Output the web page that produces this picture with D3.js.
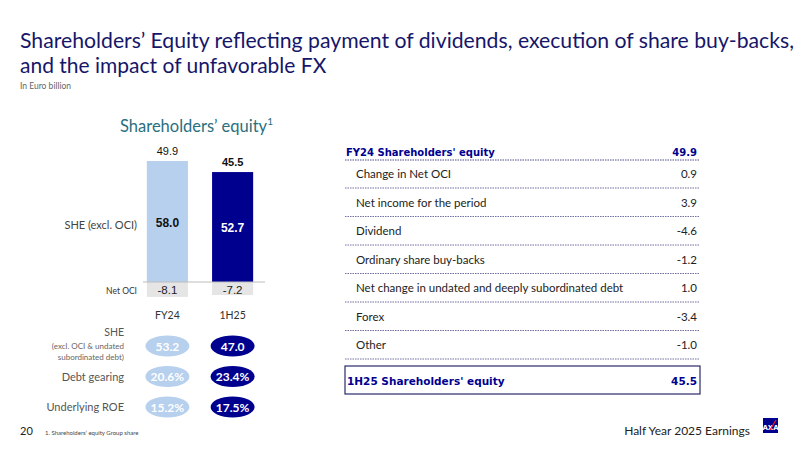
<!DOCTYPE html>
<html>
<head>
<meta charset="utf-8">
<script src="https://cdn.jsdelivr.net/npm/d3@7"></script>
<style>
  body { margin: 0; background: #fff; }
  svg { display: block; font-family: Lato, "Open Sans", sans-serif; }
</style>
</head>
<body>
<div id="chart"></div>
<script>
// Data
const categories = ["FY24", "1H25"];
const sheExclOci = [58.0, 52.7];
const netOci = [-8.1, -7.2];
const totals = [49.9, 45.5];

const kpiLabels = ["SHE", "Debt gearing", "Underlying ROE"];
const kpiFY24 = ["53.2", "20.6%", "15.2%"];
const kpi1H25 = ["47.0", "23.4%", "17.5%"];

const bridgeItems = ["Change in Net OCI", "Net income for the period", "Dividend",
  "Ordinary share buy-backs", "Net change in undated and deeply subordinated debt",
  "Forex", "Other"];
const bridgeValues = [0.9, 3.9, -4.6, -1.2, 1.0, -3.4, -1.0];
const startLabel = "FY24 Shareholders' equity";
const endLabel = "1H25 Shareholders' equity";

const navy = "#00008f";
const titleNavy = "#16166a";
const light = "#b6d0ee";
const grey = "#e5e5e5";
const fmt = d3.formatLocale({ decimal: ".", thousands: ",", grouping: [3], currency: ["", ""], minus: "-" }).format(".1f");

const W = 800, H = 450;
const svg = d3.select("#chart").append("svg")
    .attr("width", W).attr("height", H);

// Title
const title = svg.append("text")
    .attr("x", 20).attr("fill", titleNavy)
    .attr("font-size", 21);
title.append("tspan").attr("x", 20).attr("y", 48)
    .attr("textLength", 774).attr("lengthAdjust", "spacingAndGlyphs")
    .text("Shareholders\u2019 Equity reflecting payment of dividends, execution of share buy-backs,");
title.append("tspan").attr("x", 20).attr("y", 73)
    .text("and the impact of unfavorable FX");
svg.append("text").attr("x", 20).attr("y", 89)
    .attr("font-size", 8.5).attr("fill", "#666")
    .text("In Euro billion");

// Subtitle
const sub = svg.append("text").attr("x", 120).attr("y", 132)
    .attr("font-size", 16.5).attr("fill", "#2a6f80")
    .text("Shareholders\u2019 equity");
sub.append("tspan").attr("font-size", 10).attr("dy", -7).text("1");

// Bar chart scales
const x = d3.scaleBand().domain(categories)
    .range([102.5, 297.5]).paddingInner(0.37).paddingOuter(0.68);
const y = d3.scaleLinear().domain([0, 58]).range([282, 161]);

const bars = svg.append("g");
bars.selectAll("rect.she").data(categories).join("rect")
    .attr("x", d => x(d)).attr("width", x.bandwidth())
    .attr("y", (d, i) => y(sheExclOci[i]))
    .attr("height", (d, i) => y(0) - y(sheExclOci[i]))
    .attr("fill", (d, i) => i === 0 ? light : navy);

bars.selectAll("rect.oci").data(categories).join("rect")
    .attr("x", d => x(d)).attr("width", x.bandwidth())
    .attr("y", y(0))
    .attr("height", (d, i) => y(netOci[i]) - y(0) - 2)
    .attr("fill", grey);

// baseline
svg.append("line")
    .attr("x1", 143).attr("x2", 265)
    .attr("y1", y(0)).attr("y2", y(0))
    .attr("stroke", "#bdbdbd").attr("stroke-width", 1);

// value labels inside bars
bars.selectAll("text.in").data(categories).join("text")
    .attr("x", d => x(d) + x.bandwidth() / 2)
    .attr("y", (d, i) => (y(sheExclOci[i]) + y(0)) / 2 + 5)
    .attr("text-anchor", "middle").attr("font-size", 12).attr("font-weight", "bold")
    .attr("font-family", "Liberation Sans, Arial, sans-serif")
    .attr("fill", (d, i) => i === 0 ? "#111" : "#fff")
    .text((d, i) => fmt(sheExclOci[i]));

// totals above bars
bars.selectAll("text.tot").data(categories).join("text")
    .attr("x", d => x(d) + x.bandwidth() / 2)
    .attr("y", (d, i) => y(sheExclOci[i]) - 6)
    .attr("text-anchor", "middle").attr("font-size", 11)
    .attr("font-family", "Liberation Sans, Arial, sans-serif")
    .attr("font-weight", (d, i) => i === 0 ? "normal" : "bold")
    .attr("fill", "#111")
    .text((d, i) => fmt(totals[i]));

// net OCI labels
bars.selectAll("text.oci").data(categories).join("text")
    .attr("x", d => x(d) + x.bandwidth() / 2)
    .attr("y", (d, i) => (y(0) + y(netOci[i])) / 2 + 4)
    .attr("text-anchor", "middle").attr("font-size", 11.5)
    .attr("font-family", "Liberation Sans, Arial, sans-serif")
    .attr("fill", "#222")
    .text((d, i) => fmt(netOci[i]));

// category axis
svg.append("g")
    .attr("transform", "translate(0,309)")
    .call(d3.axisBottom(x).tickSize(0))
    .call(g => g.select(".domain").remove())
    .call(g => g.selectAll("text").attr("font-size", 10.5).attr("fill", "#333")
        .attr("font-family", "Lato, sans-serif"));

// row labels
svg.append("text").attr("x", 137).attr("y", 229).attr("text-anchor", "end")
    .attr("font-size", 11).attr("fill", "#444").text("SHE (excl. OCI)");
svg.append("text").attr("x", 137).attr("y", 294).attr("text-anchor", "end")
    .attr("font-size", 8.5).attr("fill", "#333").text("Net OCI");

// KPI pills
const kpiY = d3.scalePoint().domain(kpiLabels).range([346, 407]);
const pill = svg.append("g");
[kpiFY24, kpi1H25].forEach((vals, ci) => {
  const cx = x(categories[ci]) + x.bandwidth() / 2;
  pill.selectAll(null).data(kpiLabels).join("ellipse")
      .attr("cx", cx).attr("cy", d => kpiY(d))
      .attr("rx", 22).attr("ry", 10.5)
      .attr("fill", ci === 0 ? light : navy);
  pill.selectAll(null).data(kpiLabels).join("text")
      .attr("x", cx).attr("y", d => kpiY(d) + 4.5)
      .attr("text-anchor", "middle").attr("font-size", 12).attr("font-weight", "bold")
      .attr("fill", "#fff")
      .text((d, i) => vals[i]);
});

const kpiLab = svg.append("g").attr("fill", "#555").attr("text-anchor", "end")
    .attr("font-weight", "normal");
kpiLab.append("text").attr("x", 124).attr("y", 336).attr("font-size", 10.5).text("SHE");
kpiLab.append("text").attr("x", 124).attr("y", 349).attr("font-size", 8).attr("fill", "#666")
    .text("(excl. OCI & undated");
kpiLab.append("text").attr("x", 124).attr("y", 360).attr("font-size", 8).attr("fill", "#666")
    .text("subordinated debt)");
kpiLab.selectAll(null).data(kpiLabels.slice(1)).join("text")
    .attr("x", 124).attr("y", d => kpiY(d) + 4)
    .attr("font-size", 11).text(d => d);

// Bridge table
const tL = 345, tR = 700;
const rowY = d3.scalePoint().domain(bridgeItems).range([174, 345]);
const table = svg.append("g");

table.append("text").attr("x", tL + 1).attr("y", 156)
    .attr("font-family", "DejaVu Sans, sans-serif").attr("font-weight", "bold")
    .attr("font-size", 10).attr("fill", navy).text(startLabel);
table.append("text").attr("x", tR - 3).attr("y", 156).attr("text-anchor", "end")
    .attr("font-family", "DejaVu Sans, sans-serif").attr("font-weight", "bold")
    .attr("font-size", 10).attr("fill", navy).text(fmt(totals[0]));
table.append("line").attr("x1", tL).attr("x2", tR).attr("y1", 160).attr("y2", 160)
    .attr("stroke", "#4a4a8a").attr("stroke-width", 1).attr("stroke-dasharray", "1.5,1");

table.selectAll("text.item").data(bridgeItems).join("text")
    .attr("x", tL + 11).attr("y", d => rowY(d) + 4)
    .attr("font-size", 11.5).attr("fill", "#222").text(d => d);
table.selectAll("text.val").data(bridgeItems).join("text")
    .attr("x", tR - 3).attr("y", d => rowY(d) + 4).attr("text-anchor", "end")
    .attr("font-size", 11.5).attr("fill", "#222")
    .text((d, i) => fmt(bridgeValues[i]));
table.selectAll("line.sep").data(bridgeItems).join("line")
    .attr("x1", tL).attr("x2", tR)
    .attr("y1", d => rowY(d) + 14).attr("y2", d => rowY(d) + 14)
    .attr("stroke", "#4a4a8a").attr("stroke-width", 0.8).attr("stroke-dasharray", "1.5,1");

table.append("rect").attr("x", tL).attr("y", 366).attr("width", tR - tL).attr("height", 28)
    .attr("fill", "none").attr("stroke", "#2b2b6b").attr("stroke-width", 1.2);
table.append("text").attr("x", tL + 2).attr("y", 384.5)
    .attr("font-family", "DejaVu Sans, sans-serif").attr("font-weight", "bold")
    .attr("font-size", 10.5).attr("fill", navy).text(endLabel);
table.append("text").attr("x", tR - 3).attr("y", 384.5).attr("text-anchor", "end")
    .attr("font-family", "DejaVu Sans, sans-serif").attr("font-weight", "bold")
    .attr("font-size", 10.5).attr("fill", navy).text(fmt(totals[1]));

// Footer
svg.append("text").attr("x", 20).attr("y", 435).attr("font-size", 11)
    .attr("fill", "#222").text("20");
svg.append("text").attr("x", 45).attr("y", 435).attr("font-size", 6)
    .attr("fill", "#444").text("1. Shareholders\u2019 equity Group share");
svg.append("text").attr("x", 750).attr("y", 435).attr("text-anchor", "end")
    .attr("font-size", 12).attr("fill", "#222").text("Half Year 2025 Earnings");

// AXA logo
const logo = svg.append("g").attr("transform", "translate(763,418)");
logo.append("rect").attr("width", 15).attr("height", 15).attr("fill", navy);
logo.append("text").attr("x", 7.5).attr("y", 12).attr("text-anchor", "middle")
    .attr("font-size", 7).attr("font-weight", "bold").attr("fill", "#fff")
    .attr("font-family", "DejaVu Sans, sans-serif").text("AXA");
logo.append("line").attr("x1", 7).attr("y1", 12).attr("x2", 13).attr("y2", 2)
    .attr("stroke", "#ff1721").attr("stroke-width", 1.2);
</script>
</body>
</html>
